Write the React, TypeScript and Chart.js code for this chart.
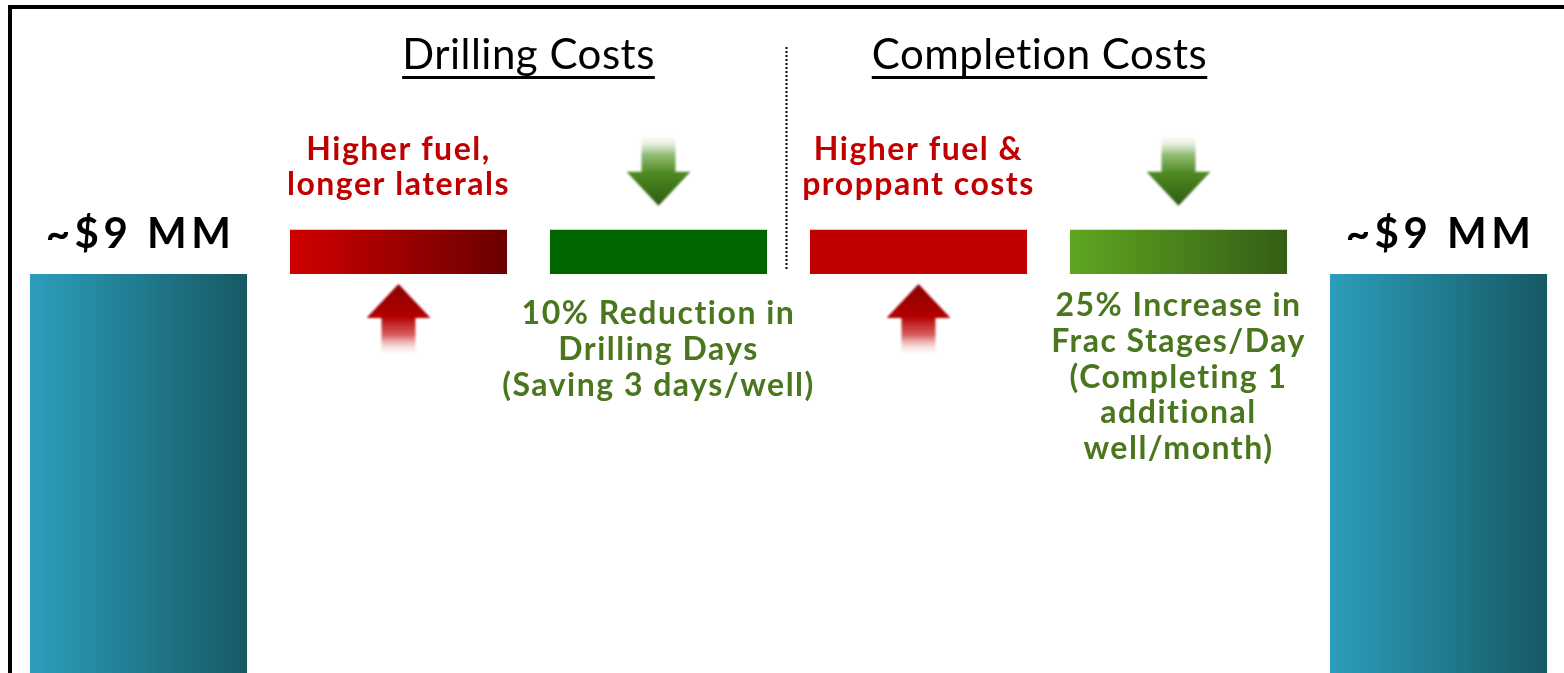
import React, { useEffect, useRef } from 'react';
import { Chart, registerables } from 'chart.js';

Chart.register(...registerables);

// ---- data ----
const categories = [
  'Current well cost',
  'Higher fuel, longer laterals',
  '10% Reduction in Drilling Days',
  'Higher fuel & proppant costs',
  '25% Increase in Frac Stages/Day',
  'Resulting well cost',
];
const barBase = [0, 9, 9, 9, 9, 0];
const barTop = [9, 10, 10, 10, 10, 9];
const valueLabels = ['~$9 MM', '', '', '', '', '~$9 MM'];
const aboveNotes: string[][] = [[], ['Higher fuel,', 'longer laterals'], [], ['Higher fuel &', 'proppant costs'], [], []];
const belowNotes: string[][] = [
  [],
  [],
  ['10% Reduction in', 'Drilling Days', '(Saving 3 days/well)'],
  [],
  ['25% Increase in', 'Frac Stages/Day', '(Completing 1', 'additional', 'well/month)'],
  [],
];
const arrowDir = [0, 1, -1, 1, -1, 0]; // 1 = cost up, -1 = cost down
const sectionTitles = ['Drilling Costs', 'Completion Costs'];

// ---- styles ----
const gradStart = ['#2c9ebb', '#d00000', '#006600', '#c00000', '#5ea620', '#2c9ebb'];
const gradEnd = ['#165964', '#6a0000', '#006600', '#c00000', '#355e16', '#165964'];
const belowGap = [0, 0, 50, 0, 42, 0];
const FONT = 'Lato, "Open Sans", sans-serif';
const RED_TEXT = '#c00000';
const GREEN_TEXT = '#4a771e';
const VIEW_W = 1564;
const VIEW_H = 673;
const CANVAS_W = 1570;

function drawArrow(ctx: CanvasRenderingContext2D, cx: number, tipY: number, dir: number) {
  const headH = 34, headW = 64, shaftW = 34, shaftL = 39;
  const headBase = tipY + dir * headH;
  const far = tipY + dir * (headH + shaftL);
  const g = ctx.createLinearGradient(0, tipY, 0, far);
  if (dir > 0) {
    g.addColorStop(0, '#8a0000');
    g.addColorStop(0.45, '#b30000');
    g.addColorStop(0.7, 'rgba(200,40,40,0.75)');
    g.addColorStop(1, 'rgba(255,255,255,0)');
  } else {
    g.addColorStop(0, '#2c5a12');
    g.addColorStop(0.45, '#4f8a22');
    g.addColorStop(0.7, 'rgba(100,160,60,0.7)');
    g.addColorStop(1, 'rgba(255,255,255,0)');
  }
  ctx.save();
  ctx.filter = 'blur(0.8px)';
  ctx.beginPath();
  ctx.moveTo(cx, tipY);
  ctx.lineTo(cx + headW / 2, headBase);
  ctx.lineTo(cx + shaftW / 2, headBase);
  ctx.lineTo(cx + shaftW / 2, far);
  ctx.lineTo(cx - shaftW / 2, far);
  ctx.lineTo(cx - shaftW / 2, headBase);
  ctx.lineTo(cx - headW / 2, headBase);
  ctx.closePath();
  ctx.fillStyle = g;
  ctx.fill();
  ctx.restore();
}

function setSpacing(ctx: any, px: number) {
  if ('letterSpacing' in ctx) ctx.letterSpacing = `${px}px`;
}

const overlayPlugin = {
  id: 'overlay',
  beforeDraw(chart: any) {
    const ctx = chart.ctx as CanvasRenderingContext2D;
    ctx.save();
    ctx.fillStyle = '#fff';
    ctx.fillRect(0, 0, chart.width, chart.height);
    ctx.fillStyle = '#000';
    ctx.fillRect(8, 5, chart.width - 8, 4);
    ctx.fillRect(8, 5, 4, chart.height - 5);
    ctx.restore();
  },
  afterDatasetsDraw(chart: any) {
    const ctx = chart.ctx as CanvasRenderingContext2D;
    const bars = chart.getDatasetMeta(0).data as any[];
    ctx.save();
    ctx.textAlign = 'center';
    ctx.textBaseline = 'alphabetic';

    // section titles
    const titleCenters = [(bars[1].x + bars[2].x) / 2, (bars[3].x + bars[4].x) / 2 - 9];
    ctx.font = `42px ${FONT}`;
    setSpacing(ctx, 0.5);
    ctx.fillStyle = '#000';
    sectionTitles.forEach((t, i) => {
      const cx = titleCenters[i];
      ctx.fillText(t, cx, 69);
      const w = ctx.measureText(t).width;
      ctx.fillRect(cx - w / 2, 76, w, 3);
    });

    // dotted divider
    const dx = (bars[2].x + bars[3].x) / 2 - 2;
    ctx.beginPath();
    ctx.setLineDash([2, 2]);
    ctx.lineWidth = 2;
    ctx.strokeStyle = '#000';
    ctx.moveTo(dx, 47);
    ctx.lineTo(dx, 270);
    ctx.stroke();
    ctx.setLineDash([]);

    bars.forEach((b, i) => {
      const top = Math.min(b.y, b.base);
      const bottom = Math.max(b.y, b.base);
      if (valueLabels[i]) {
        ctx.font = `bold 42px ${FONT}`;
        setSpacing(ctx, 4.5);
        ctx.fillStyle = '#000';
        ctx.fillText(valueLabels[i], b.x + 2, top - 26);
      }
      const above = aboveNotes[i];
      if (above.length) {
        ctx.font = `bold 32px ${FONT}`;
        setSpacing(ctx, 1.5);
        ctx.fillStyle = RED_TEXT;
        above.forEach((line, k) => {
          ctx.fillText(line, b.x, top - 35 - (above.length - 1 - k) * 35);
        });
      }
      const below = belowNotes[i];
      if (below.length) {
        ctx.font = `bold 32px ${FONT}`;
        setSpacing(ctx, 1.5);
        ctx.fillStyle = GREEN_TEXT;
        below.forEach((line, k) => {
          ctx.fillText(line, b.x, bottom + belowGap[i] + k * 35.8);
        });
      }
      if (arrowDir[i] > 0) drawArrow(ctx, b.x, bottom + 10, 1);
      if (arrowDir[i] < 0) drawArrow(ctx, b.x, top - 24, -1);
    });
    ctx.restore();
  },
};

export default function App() {
  const ref = useRef<HTMLCanvasElement>(null);
  useEffect(() => {
    if (!ref.current) return;
    const chart = new Chart(ref.current, {
      type: 'bar',
      data: {
        labels: categories,
        datasets: [
          {
            data: barBase.map((b, i) => [b, barTop[i]]) as any,
            backgroundColor: (c: any) => {
              const ch = c.chart;
              const i = c.dataIndex;
              if (!ch.chartArea || i === undefined) return gradStart[i ?? 0];
              const xs = ch.scales.x;
              const cx = xs.getPixelForValue(i);
              const half = (xs.width / categories.length) * 0.835 / 2;
              const g = ch.ctx.createLinearGradient(cx - half, 0, cx + half, 0);
              g.addColorStop(0, gradStart[i]);
              g.addColorStop(1, gradEnd[i]);
              return g;
            },
            borderWidth: 0,
            barPercentage: 0.835,
            categoryPercentage: 1,
          },
        ],
      },
      options: {
        responsive: false,
        animation: false,
        devicePixelRatio: 1,
        layout: { padding: { left: 8.5, right: 1.5, top: 0, bottom: 0 } },
        plugins: { legend: { display: false }, tooltip: { enabled: false } },
        scales: {
          x: { display: false, offset: true, grid: { display: false } },
          y: { display: false, min: 0, max: 15.18 },
        },
      },
      plugins: [overlayPlugin],
    });
    return () => chart.destroy();
  }, []);
  return (
    <div
      style={{
        position: 'fixed',
        left: 0,
        top: 0,
        width: VIEW_W,
        height: VIEW_H,
        overflow: 'hidden',
        background: '#fff',
      }}
    >
      <canvas ref={ref} width={CANVAS_W} height={VIEW_H} style={{ display: 'block' }} />
    </div>
  );
}
